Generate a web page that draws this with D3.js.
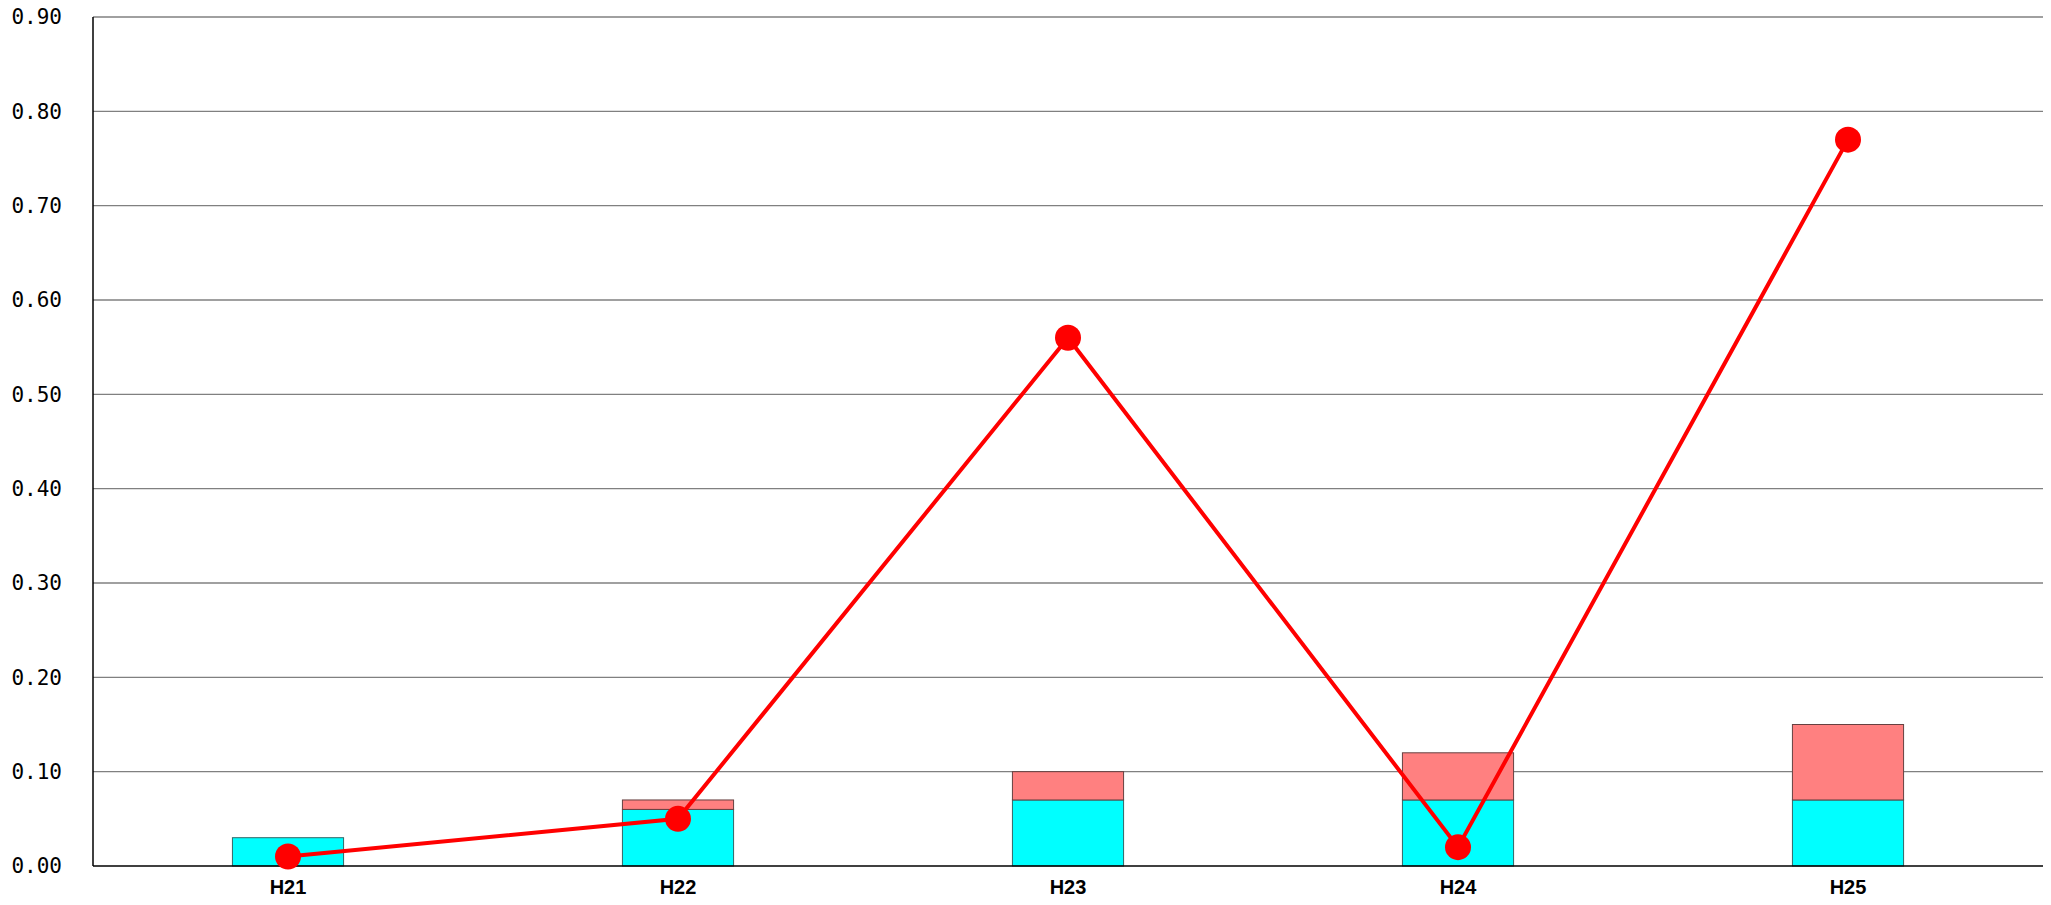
<!DOCTYPE html>
<html>
<head>
<meta charset="utf-8">
<script src="https://cdn.jsdelivr.net/npm/d3@7"></script>
<style>
  html, body { margin: 0; padding: 0; background: #fff; overflow: hidden; }
  svg { display: block; }
  .ytick text { font-family: "DejaVu Sans Mono", monospace; font-size: 21px; fill: #000; }
  .xtick text { font-family: "Liberation Sans Narrow", "Liberation Sans", sans-serif; font-size: 20px; font-weight: bold; fill: #000; }
</style>
</head>
<body>
<svg id="chart"></svg>
<script>
const categories = ['H21', 'H22', 'H23', 'H24', 'H25'];
const cyanValues = [0.03, 0.06, 0.07, 0.07, 0.07];
const pinkValues = [0.00, 0.01, 0.03, 0.05, 0.08];
const lineValues = [0.01, 0.05, 0.56, 0.02, 0.77];
const yTicks = [0, 0.1, 0.2, 0.3, 0.4, 0.5, 0.6, 0.7, 0.8, 0.9];

const width = 2051, height = 905;
const margin = { top: 17, right: 8, bottom: 39, left: 93 };
const innerWidth = width - margin.left - margin.right;
const innerHeight = height - margin.top - margin.bottom;

const svg = d3.select('#chart').attr('width', width).attr('height', height);
const g = svg.append('g').attr('transform', `translate(${margin.left},${margin.top})`);

const x = d3.scaleBand().domain(categories).range([0, innerWidth]).padding(0);
const y = d3.scaleLinear().domain([0, 0.9]).range([innerHeight, 0]);
const barW = x.bandwidth() * 0.285;

// grid
g.selectAll('.grid').data(yTicks.slice(1)).enter().append('line')
  .attr('x1', 0).attr('x2', innerWidth)
  .attr('y1', d => y(d)).attr('y2', d => y(d))
  .attr('stroke', '#808080').attr('stroke-width', 1.3);

// y tick labels
const yt = g.selectAll('.ytick').data(yTicks).enter().append('g').attr('class', 'ytick');
yt.append('text')
  .attr('x', -31).attr('y', d => y(d)).attr('dy', '0.35em')
  .attr('text-anchor', 'end')
  .text(d => d3.format('.2f')(d));

// stacked bars
const stacked = categories.map((c, i) => ({ c, cyan: cyanValues[i], pink: pinkValues[i] }));
g.selectAll('.cyan').data(stacked).enter().append('rect')
  .attr('x', d => x(d.c) + x.bandwidth() / 2 - barW / 2)
  .attr('width', barW)
  .attr('y', d => y(d.cyan))
  .attr('height', d => y(0) - y(d.cyan))
  .attr('fill', '#00ffff').attr('stroke', '#336666').attr('stroke-width', 1);
g.selectAll('.pink').data(stacked.filter(d => d.pink > 0)).enter().append('rect')
  .attr('x', d => x(d.c) + x.bandwidth() / 2 - barW / 2)
  .attr('width', barW)
  .attr('y', d => y(d.cyan + d.pink))
  .attr('height', d => y(d.cyan) - y(d.cyan + d.pink))
  .attr('fill', '#ff8080').attr('stroke', '#664040').attr('stroke-width', 1);

// axes lines
g.append('line').attr('x1', 0).attr('x2', 0).attr('y1', 0).attr('y2', innerHeight)
  .attr('stroke', '#000').attr('stroke-width', 1.5);
g.append('line').attr('x1', 0).attr('x2', innerWidth).attr('y1', innerHeight).attr('y2', innerHeight)
  .attr('stroke', '#000').attr('stroke-width', 1.5);

// x labels
const xt = g.selectAll('.xtick').data(categories).enter().append('g').attr('class', 'xtick');
xt.append('text')
  .attr('x', d => x(d) + x.bandwidth() / 2).attr('y', innerHeight + 21).attr('dy', '0.35em')
  .attr('text-anchor', 'middle')
  .text(d => d);

// line series
const pts = categories.map((c, i) => ({ c, v: lineValues[i] }));
const line = d3.line().x(d => x(d.c) + x.bandwidth() / 2).y(d => y(d.v));
g.append('path').datum(pts).attr('d', line)
  .attr('fill', 'none').attr('stroke', '#ff0000').attr('stroke-width', 4);
g.selectAll('.dot').data(pts).enter().append('circle')
  .attr('cx', d => x(d.c) + x.bandwidth() / 2).attr('cy', d => y(d.v))
  .attr('r', 13).attr('fill', '#ff0000');
</script>
</body>
</html>
